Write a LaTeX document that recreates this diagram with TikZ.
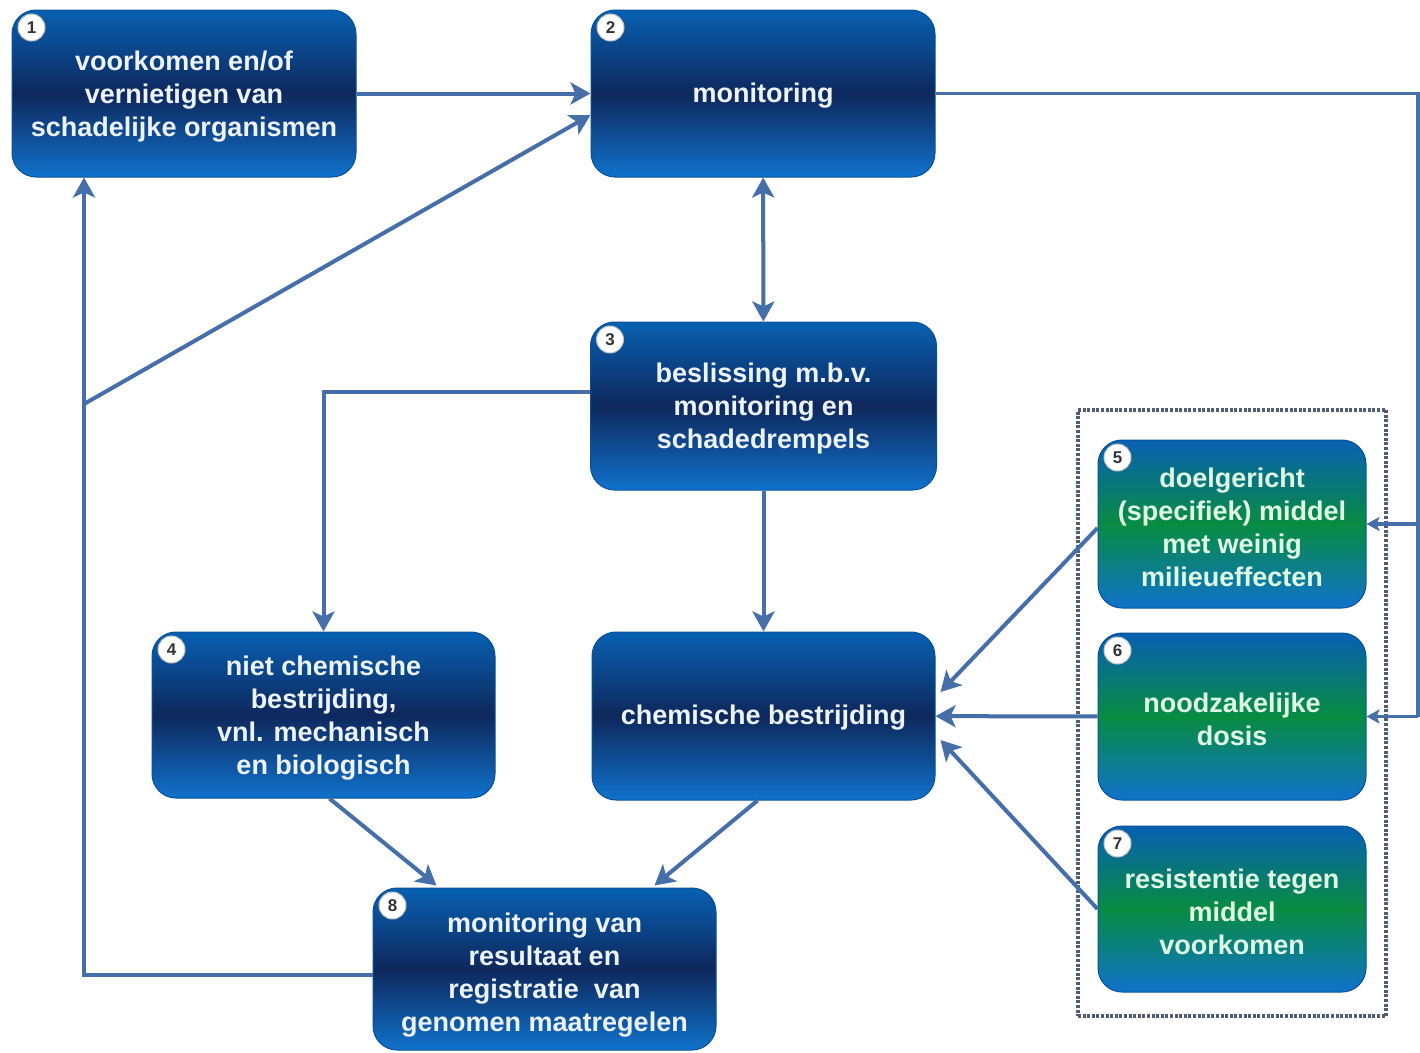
\documentclass[tikz,border=0pt]{standalone}
\usepackage{fontspec}
\setmainfont{Liberation Sans}
\usetikzlibrary{arrows.meta,calc}
\definecolor{lineblue}{RGB}{70,110,168}
\definecolor{topblue}{RGB}{8,96,178}
\definecolor{navy}{RGB}{14,40,92}
\definecolor{botblue}{RGB}{16,114,204}
\definecolor{greenmid}{RGB}{8,140,66}
\definecolor{txt}{RGB}{236,243,252}
\definecolor{gtxt}{RGB}{222,250,228}
\definecolor{dotcol}{RGB}{80,92,118}
\tikzset{
  box/.style={rounded corners=24pt, minimum width=344pt, minimum height=167pt,
    top color=topblue, bottom color=botblue, middle color=navy,
    draw=topblue!85!black, line width=1pt, inner sep=0pt},
  gbox/.style={box, minimum width=268pt, top color=topblue, bottom color=botblue, middle color=greenmid},
  btext/.style={text=txt, font=\bfseries\fontsize{27}{33}\selectfont, align=center, inner sep=0pt},
  gtext/.style={btext, text=gtxt},
  badge/.style={circle, fill=white, draw=gray!50, line width=1pt, minimum size=27pt, inner sep=0pt,
    font=\bfseries\fontsize{17}{17}\selectfont, text=black!80},
  conn/.style={draw=lineblue, line width=4pt, -{Stealth[length=20pt,width=22pt,inset=5pt]}},
  dconn/.style={draw=lineblue, line width=4pt, {Stealth[length=20pt,width=22pt,inset=5pt]}-{Stealth[length=20pt,width=22pt,inset=5pt]}},
  plain/.style={draw=lineblue, line width=3.5pt},
  sconn/.style={draw=lineblue, line width=3.5pt, -{Stealth[length=13pt,width=14pt,inset=3pt]}},
  dotbox/.style={draw=dotcol, line width=3.5pt, dash pattern=on 3pt off 1.6pt, minimum width=308pt, minimum height=606pt, inner sep=0pt}
}
\begin{document}
\begin{tikzpicture}[x=1pt,y=-1pt]
\useasboundingbox (0,0) rectangle (1420,1052);
\fill[white] (0,0) rectangle (1420,1052);

\node[dotbox] (grp) at (1232,713) {};

\node[box] (n1) at (184,93.5) {};
\node[box] (n2) at (763,93.5) {};
\node[box, minimum width=346pt, minimum height=168pt] (n3) at (763.5,406) {};
\node[box, minimum width=343pt, minimum height=166pt] (n4) at (323.5,715) {};
\node[box, minimum width=343pt, minimum height=168pt] (chem) at (763.5,716) {};
\node[box, minimum width=343pt, minimum height=162pt] (n8) at (544.5,969) {};
\node[gbox, minimum height=168pt] (n5) at (1232,524) {};
\node[gbox, minimum height=167pt] (n6) at (1232,716.5) {};
\node[gbox, minimum height=166pt] (n7) at (1232,909) {};

\node[btext] (t1) at ($(n1.center)+(0,3)$) {voorkomen en/of\\vernietigen van\\schadelijke organismen};
\node[btext] (t2) at ($(n2.center)+(0,2)$) {monitoring};
\node[btext] (t3) at ($(n3.center)+(0,3)$) {beslissing m.b.v.\\monitoring en\\schadedrempels};
\node[btext] (t4) at ($(n4.center)+(0,3)$) {niet chemische\\bestrijding,\\vnl. mechanisch\\en biologisch};
\node[btext] (tc) at ($(chem.center)+(0,2)$) {chemische bestrijding};
\node[btext] (t8) at ($(n8.center)+(0,6)$) {monitoring van\\resultaat en\\registratie\ \ van\\genomen maatregelen};
\node[gtext] (t5) at ($(n5.center)+(0,3)$) {doelgericht\\(specifiek) middel\\met weinig\\milieueffecten};
\node[gtext] (t6) at ($(n6.center)+(0,3)$) {noodzakelijke\\dosis};
\node[gtext] (t7) at ($(n7.center)+(0,3)$) {resistentie tegen\\middel\\voorkomen};

\foreach \b/\n in {n1/1,n2/2,n3/3,n4/4,n5/5,n6/6,n7/7,n8/8}
  \node[badge] (b\n) at ($(\b.north west)+(20,18)$) {\n};

\coordinate (jx) at (84,404);
\coordinate (rt) at (1418,93.5);
\coordinate (rb) at (1418,716.5);

% connectors
\draw[conn] (n1) -- (n2);
\draw[conn] (jx) -- ($(n2.west)+(0,21.5)$);
\draw[conn] ($(n8.west)+(0,6)$) -| (n1.south -| jx);
\draw[dconn] (n2) -- (n3);
\draw[conn] ($(n3.west)+(0,-14)$) -| (n4.north);
\draw[conn] (n3) -- (chem);
\draw[plain] (n2.east) -- (rt) -- (rb);
\draw[plain] ($(n3.east)+(0,-14)$) -- ($(n3.east)+(0,-14)$ -| rt);
\draw[sconn] (rt |- n5) -- (n5.east);
\draw[sconn] (rb) -- (n6.east);
\draw[conn] ($(n5.west)+(0,4)$) -- ($(chem.east)+(5,-24)$);
\draw[conn] (n6) -- (chem);
\draw[conn] (n7.west) -- ($(chem.east)+(5,24)$);
\draw[conn] ($(n4.south)+(6,0)$) -- ($(n8.north west)+(64,-2)$);
\draw[conn] ($(chem.south)+(-6,0)$) -- ($(n8.north east)+(-62,-2)$);
\end{tikzpicture}
\end{document}
